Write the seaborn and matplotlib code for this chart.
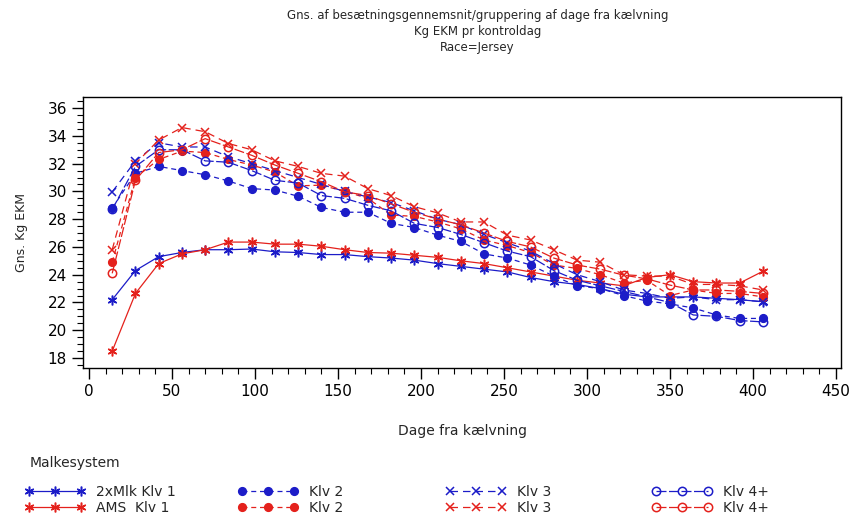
import matplotlib
matplotlib.use("Agg")
import matplotlib.pyplot as plt
import seaborn as sns
import numpy as np
import pandas as pd
from matplotlib.lines import Line2D
from matplotlib.ticker import MultipleLocator

# ---------------- data ----------------
days = [14, 28, 42, 56, 70, 84, 98, 112, 126, 140, 154, 168, 182, 196, 210,
        224, 238, 252, 266, 280, 294, 308, 322, 336, 350, 364, 378, 392, 406]

mlk_klv1 = [22.2, 24.3, 25.3, 25.6, 25.8, 25.8, 25.85, 25.65, 25.6, 25.45, 25.45, 25.3, 25.2, 25.05, 24.8,
            24.6, 24.4, 24.2, 23.8, 23.5, 23.3, 23.0, 22.6, 22.4, 22.4, 22.4, 22.3, 22.2, 22.05]
ams_klv1 = [18.5, 22.65, 24.8, 25.5, 25.8, 26.35, 26.35, 26.2, 26.2, 26.05, 25.8, 25.6, 25.55, 25.4, 25.25,
            25.0, 24.8, 24.5, 24.2, 23.9, 23.6, 23.4, 23.2, 23.8, 24.0, 23.5, 23.4, 23.4, 24.25]
mlk_klv2 = [28.8, 31.3, 31.8, 31.5, 31.2, 30.75, 30.2, 30.1, 29.65, 28.85, 28.5, 28.5, 27.7, 27.4, 26.85,
            26.4, 25.5, 25.2, 24.7, 23.9, 23.2, 23.0, 22.5, 22.1, 21.9, 21.6, 21.1, 20.85, 20.85]
ams_klv2 = [24.9, 31.0, 32.3, 32.9, 32.8, 32.3, 31.9, 31.4, 30.4, 30.45, 30.0, 29.5, 28.3, 28.2, 27.8,
            27.3, 26.5, 26.1, 25.6, 24.7, 24.45, 24.0, 23.4, 23.6, 22.5, 22.9, 22.65, 22.65, 22.4]
mlk_klv3 = [29.96, 32.2, 33.5, 33.2, 33.2, 32.5, 32.0, 31.5, 31.0, 30.5, 30.0, 29.6, 29.2, 28.6, 28.0,
            27.6, 26.9, 26.3, 25.7, 24.8, 24.0, 23.5, 22.9, 22.65, 22.3, 22.4, 22.2, 22.2, 22.05]
ams_klv3 = [25.8, 32.0, 33.7, 34.6, 34.3, 33.45, 33.0, 32.2, 31.8, 31.3, 31.1, 30.2, 29.7, 28.9, 28.45,
            27.8, 27.8, 26.85, 26.5, 25.8, 25.05, 24.9, 24.0, 23.9, 23.9, 23.3, 23.3, 23.2, 22.9]
mlk_klv4 = [28.7, 31.8, 33.0, 33.0, 32.2, 32.1, 31.5, 30.8, 30.6, 29.7, 29.5, 29.0, 28.6, 27.7, 27.4,
            26.9, 26.3, 25.7, 25.3, 24.3, 23.6, 23.2, 22.8, 22.4, 22.0, 21.1, 21.0, 20.7, 20.6]
ams_klv4 = [24.1, 30.8, 32.8, 33.0, 33.8, 33.2, 32.6, 31.9, 31.3, 30.7, 29.97, 29.7, 29.1, 28.5, 28.0,
            27.6, 27.0, 26.4, 26.0, 25.2, 24.7, 24.4, 23.97, 23.7, 23.25, 22.9, 22.9, 22.8, 22.65]

labels = ["2xMlk Klv 1", "AMS  Klv 1", "Klv 2", "Klv 2", "Klv 3", "Klv 3", "Klv 4+", "Klv 4+"]
series = [mlk_klv1, ams_klv1, mlk_klv2, ams_klv2, mlk_klv3, ams_klv3, mlk_klv4, ams_klv4]

title_lines = ["Gns. af besætningsgennemsnit/gruppering af dage fra kælvning",
               "Kg EKM pr kontroldag", "Race=Jersey"]

# ---------------- style ----------------
BLUE = "#1c1cc8"
RED = "#e4211c"
colors = [BLUE, RED] * 4
star = (6, 2, 0)
styles = [
    dict(marker=star, ls="-", mfc="none", ms=7),
    dict(marker=star, ls="-", mfc="none", ms=7),
    dict(marker="o", ls=(0, (4, 3)), mfc=None, ms=5.5),
    dict(marker="o", ls=(0, (4, 3)), mfc=None, ms=5.5),
    dict(marker="x", ls=(0, (6, 4)), mfc=None, ms=6),
    dict(marker="x", ls=(0, (6, 4)), mfc=None, ms=6),
    dict(marker="o", ls=(0, (8, 2)), mfc="none", ms=6),
    dict(marker="o", ls=(0, (8, 2)), mfc="none", ms=6),
]

sns.set_theme(style="white")
plt.rcParams["font.family"] = ["DejaVu Sans"]

fig = plt.figure(figsize=(8.53, 5.23), dpi=100)
ax = fig.add_axes([83 / 853, 1 - 368 / 523, (841 - 83) / 853, (368 - 97) / 523])

handles = []
for vals, lab, col, st in zip(series, labels, colors, styles):
    df = pd.DataFrame({"x": days, "y": vals})
    mfc = col if st["mfc"] is None else st["mfc"]
    sns.lineplot(data=df, x="x", y="y", ax=ax, color=col, linestyle=st["ls"],
                 linewidth=0.9, marker=st["marker"], markersize=st["ms"],
                 markerfacecolor=mfc, markeredgecolor=col, markeredgewidth=1.1,
                 legend=False)
    handles.append(Line2D([0], [0], color=col, linestyle=st["ls"], linewidth=0.9,
                          marker=st["marker"], markersize=st["ms"],
                          markerfacecolor=mfc, markeredgecolor=col,
                          markeredgewidth=1.1))

ax.set_xlim(-3.6, 453)
ax.set_ylim(17.28, 36.8)
ax.xaxis.set_major_locator(MultipleLocator(50))
ax.xaxis.set_minor_locator(MultipleLocator(10))
ax.yaxis.set_major_locator(MultipleLocator(2))
ax.yaxis.set_minor_locator(MultipleLocator(0.5))
ax.tick_params(axis="both", which="both", direction="out", bottom=True, left=True,
               colors="black", labelsize=11)
ax.tick_params(axis="both", which="major", length=8, width=1)
ax.tick_params(axis="both", which="minor", length=4, width=0.8)
for sp in ax.spines.values():
    sp.set_color("black")
    sp.set_linewidth(1)
ax.grid(False)
ax.set_xlabel("Dage fra kælvning", fontsize=10, labelpad=18)
ax.set_ylabel("Gns. Kg EKM", fontsize=9, labelpad=14)

# titles
for i, t in enumerate(title_lines):
    fig.text(0.56, 1 - (16 + 16 * i) / 523, t, ha="center", va="center", fontsize=8.5)

# legend
fig.text(30 / 853, 1 - 463 / 523, "Malkesystem", ha="left", va="center", fontsize=10)
col_x = [25, 238, 446, 652]
for k in range(4):
    leg = fig.legend(handles[2 * k:2 * k + 2], labels[2 * k:2 * k + 2],
                     loc="upper left", bbox_to_anchor=(col_x[k] / 853, 1 - 485 / 523),
                     frameon=False, numpoints=3, handlelength=4.3, handletextpad=0.8,
                     borderpad=0, borderaxespad=0, labelspacing=0.15, fontsize=10)

fig.savefig("out.png", dpi=100)
